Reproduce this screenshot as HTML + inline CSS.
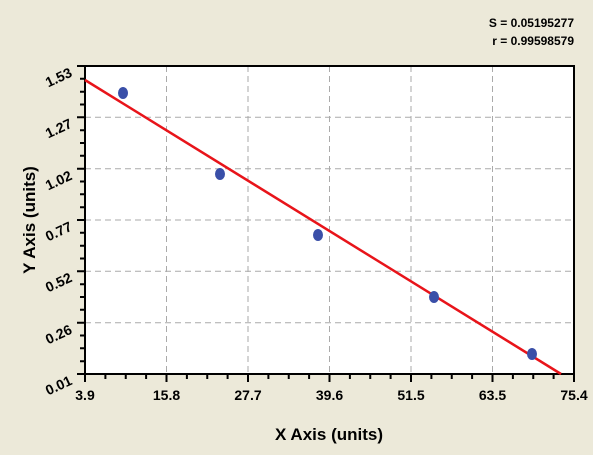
<!DOCTYPE html>
<html><head><style>
body{margin:0;background:#fff;}
</style></head><body>
<svg width="600" height="455" xmlns="http://www.w3.org/2000/svg" font-family="Liberation Sans, Arial, sans-serif" font-weight="bold">
<rect x="0" y="0" width="593" height="455" fill="#ece9d9"/>
<rect x="85" y="66" width="489" height="308" fill="#fff"/>
<g stroke="#aaa" stroke-dasharray="6,4" stroke-width="1">
<line x1="166.5" y1="66" x2="166.5" y2="374"/><line x1="248" y1="66" x2="248" y2="374"/><line x1="329.5" y1="66" x2="329.5" y2="374"/><line x1="411" y1="66" x2="411" y2="374"/><line x1="492.5" y1="66" x2="492.5" y2="374"/>
<line x1="85" y1="117.3" x2="574" y2="117.3"/><line x1="85" y1="168.7" x2="574" y2="168.7"/><line x1="85" y1="220" x2="574" y2="220"/><line x1="85" y1="271.3" x2="574" y2="271.3"/><line x1="85" y1="322.7" x2="574" y2="322.7"/>
</g>
<rect x="85" y="66" width="489" height="308" fill="none" stroke="#000" stroke-width="2"/>
<path stroke="#000" stroke-width="2" fill="none" d="
M85 374v8M105.4 374v5M125.75 374v5M146.1 374v5M166.5 374v8M186.9 374v5M207.25 374v5M227.6 374v5M248 374v8M268.4 374v5M288.75 374v5M309.1 374v5M329.5 374v8M349.9 374v5M370.25 374v5M390.6 374v5M411 374v8M431.4 374v5M451.75 374v5M472.1 374v5M492.5 374v8M512.9 374v5M533.25 374v5M553.6 374v5M574 374v8
M77 66h8M80 78.8h5M80 91.7h5M80 104.5h5M77 117.3h8M80 130.2h5M80 143h5M80 155.8h5M77 168.7h8M80 181.5h5M80 194.3h5M80 207.2h5M77 220h8M80 232.8h5M80 245.7h5M80 258.5h5M77 271.3h8M80 284.2h5M80 297h5M80 309.8h5M77 322.7h8M80 335.5h5M80 348.3h5M80 361.2h5M77 374h8"/>
<line x1="85" y1="80" x2="561" y2="374" stroke="#e8141a" stroke-width="2.5"/>
<g fill="#3a4fa8">
<ellipse cx="123" cy="93" rx="5" ry="6"/><ellipse cx="220" cy="174" rx="5" ry="6"/><ellipse cx="318" cy="235" rx="5" ry="6"/><ellipse cx="434" cy="297" rx="5" ry="6"/><ellipse cx="532" cy="354" rx="5" ry="6"/>
</g>
<g font-size="14" text-anchor="middle" fill="#000">
<text x="85" y="400">3.9</text><text x="166.5" y="400">15.8</text><text x="248" y="400">27.7</text><text x="329.5" y="400">39.6</text><text x="411" y="400">51.5</text><text x="492.5" y="400">63.5</text><text x="574" y="400">75.4</text>
</g>
<g font-size="14" text-anchor="end" fill="#000">
<text transform="translate(73,76) rotate(-25)">1.53</text>
<text transform="translate(73,127) rotate(-25)">1.27</text>
<text transform="translate(73,179) rotate(-25)">1.02</text>
<text transform="translate(73,230) rotate(-25)">0.77</text>
<text transform="translate(73,281) rotate(-25)">0.52</text>
<text transform="translate(73,333) rotate(-25)">0.26</text>
<text transform="translate(73,384) rotate(-25)">0.01</text>
</g>
<text x="329" y="440" font-size="17" text-anchor="middle">X Axis (units)</text>
<text transform="translate(35,220) rotate(-90)" font-size="17" text-anchor="middle">Y Axis (units)</text>
<text x="574" y="27" font-size="12" text-anchor="end">S = 0.05195277</text>
<text x="574" y="45" font-size="12" text-anchor="end">r = 0.99598579</text>
</svg>
</body></html>
